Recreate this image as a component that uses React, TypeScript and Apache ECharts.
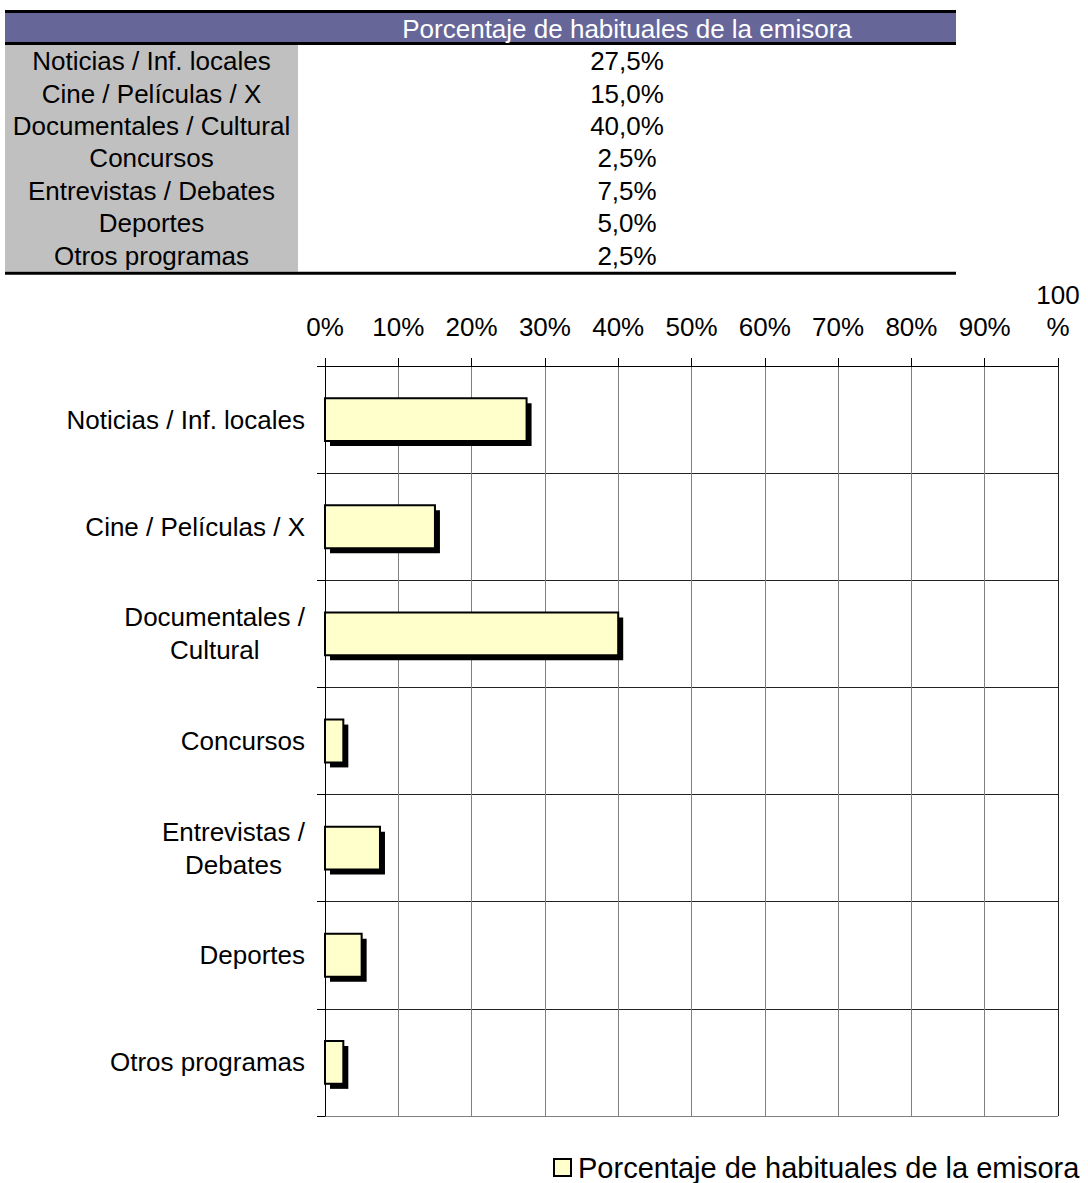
import React, { useEffect, useRef } from "react";
import * as echarts from "echarts";

const seriesName = "Porcentaje de habituales de la emisora";
const categories = [
  "Noticias / Inf. locales",
  "Cine / Películas / X",
  "Documentales / Cultural",
  "Concursos",
  "Entrevistas / Debates",
  "Deportes",
  "Otros programas",
];
const axisLabels = [
  "Noticias / Inf. locales",
  "Cine / Películas / X",
  "Documentales /\nCultural",
  "Concursos",
  "Entrevistas /\nDebates",
  "Deportes",
  "Otros programas",
];
const values = [27.5, 15.0, 40.0, 2.5, 7.5, 5.0, 2.5];
const tableValues = ["27,5%", "15,0%", "40,0%", "2,5%", "7,5%", "5,0%", "2,5%"];

const FONT = "Liberation Sans, Arial, Helvetica, sans-serif";

export default function App() {
  const ref = useRef<HTMLDivElement>(null);
  useEffect(() => {
    if (!ref.current) return;
    const chart = echarts.init(ref.current, null, { renderer: "svg" });

    const tableLeft = 5;
    const tableRight = 956;
    const colSplit = 298;
    const headerTop = 13;
    const headerBottom = 42;
    const rowsTop = 45;
    const rowH = 32.4;
    const rowsBottom = rowsTop + rowH * categories.length;

    const txt = (x: number, y: number, text: string, fill: string) => ({
      type: "text",
      x,
      y,
      style: {
        text,
        fill,
        fontSize: 26,
        fontFamily: FONT,
        align: "center",
        verticalAlign: "middle",
      },
    });

    const graphics: any[] = [
      { type: "rect", shape: { x: tableLeft, y: headerTop, width: tableRight - tableLeft, height: headerBottom - headerTop }, style: { fill: "#666699" } },
      { type: "line", shape: { x1: tableLeft, y1: 11.5, x2: tableRight, y2: 11.5 }, style: { stroke: "#000", lineWidth: 3 } },
      { type: "line", shape: { x1: tableLeft, y1: 43.5, x2: tableRight, y2: 43.5 }, style: { stroke: "#000", lineWidth: 3 } },
      { type: "rect", shape: { x: tableLeft, y: rowsTop, width: colSplit - tableLeft, height: rowsBottom - rowsTop }, style: { fill: "#C0C0C0" } },
      { type: "line", shape: { x1: tableLeft, y1: rowsBottom + 1.5, x2: tableRight, y2: rowsBottom + 1.5 }, style: { stroke: "#000", lineWidth: 3 } },
      txt((colSplit + tableRight) / 2, (headerTop + headerBottom) / 2 + 1, seriesName, "#fff"),
    ];
    categories.forEach((c, i) => {
      const cy = rowsTop + rowH * (i + 0.5);
      graphics.push(txt((tableLeft + colSplit) / 2, cy, c, "#000"));
      graphics.push(txt((colSplit + tableRight) / 2, cy, tableValues[i], "#000"));
    });

    const xSplitColors = ["#000", "#808080", "#808080", "#808080", "#808080", "#808080", "#808080", "#808080", "#808080", "#808080", "#222"];
    const ySplitColors = ["#000", "#222", "#222", "#222", "#222", "#222", "#222", "#808080"];

    chart.setOption({
      animation: false,
      backgroundColor: "#fff",
      textStyle: { fontFamily: FONT },
      graphic: graphics,
      grid: { left: 325, right: 30, top: 366, bottom: 67, containLabel: false },
      legend: {
        left: 548,
        top: 1148,
        itemWidth: 17,
        itemHeight: 17,
        textStyle: { fontSize: 29, color: "#000", fontFamily: FONT, padding: [0, 0, 0, 2] },
        data: [
          {
            name: seriesName,
            icon: "rect",
            itemStyle: { color: "#FFFFCC", borderColor: "#000", borderWidth: 2 },
          },
        ],
      },
      xAxis: {
        type: "value",
        position: "top",
        min: 0,
        max: 100,
        interval: 10,
        axisLine: { show: true, lineStyle: { color: "#000", width: 1 } },
        axisTick: { show: true, inside: false, length: 8, lineStyle: { color: "#000" } },
        splitLine: { show: true, lineStyle: { color: xSplitColors, width: 1 } },
        axisLabel: {
          margin: 23,
          fontSize: 26,
          lineHeight: 32,
          color: "#000",
          fontFamily: FONT,
          formatter: (v: number) => (v === 100 ? "100\n%" : v + "%"),
        },
      },
      yAxis: {
        type: "category",
        inverse: true,
        data: categories,
        axisLine: { show: true, lineStyle: { color: "#000", width: 1 } },
        axisTick: { show: true, inside: false, length: 8, lineStyle: { color: "#000" } },
        splitLine: { show: true, lineStyle: { color: ySplitColors, width: 1 } },
        axisLabel: {
          margin: 20,
          color: "#000",
          fontSize: 26,
          fontFamily: FONT,
          formatter: (_v: string, i: number) =>
            axisLabels[i].split("\n").map((l) => `{c|${l}}`).join("\n"),
          rich: {
            c: { align: "center", fontSize: 26, lineHeight: 33, color: "#000", fontFamily: FONT },
          },
        },
      },
      series: [
        {
          name: seriesName,
          type: "custom",
          encode: { x: 0, y: 1 },
          itemStyle: { color: "#FFFFCC", borderColor: "#000", borderWidth: 2 },
          data: values.map((v, i) => [v, i]),
          renderItem: (_params: any, api: any) => {
            const idx = api.value(1);
            const v = api.value(0);
            const start = api.coord([0, idx]);
            const end = api.coord([v, idx]);
            const bandH = api.size([0, 1])[1];
            const h = bandH * 0.4;
            const x0 = start[0];
            const y0 = start[1] - h / 2;
            const w = end[0] - start[0];
            return {
              type: "group",
              children: [
                { type: "rect", shape: { x: x0 + 5, y: y0 + 5, width: w, height: h }, style: { fill: "#000" } },
                { type: "rect", shape: { x: x0, y: y0, width: w, height: h }, style: { fill: "#FFFFCC", stroke: "#000", lineWidth: 2 } },
              ],
            };
          },
        },
      ],
    });
    return () => chart.dispose();
  }, []);
  return (
    <div
      ref={ref}
      style={{ position: "absolute", left: 0, top: 0, width: 1088, height: 1183, background: "#fff" }}
    />
  );
}
